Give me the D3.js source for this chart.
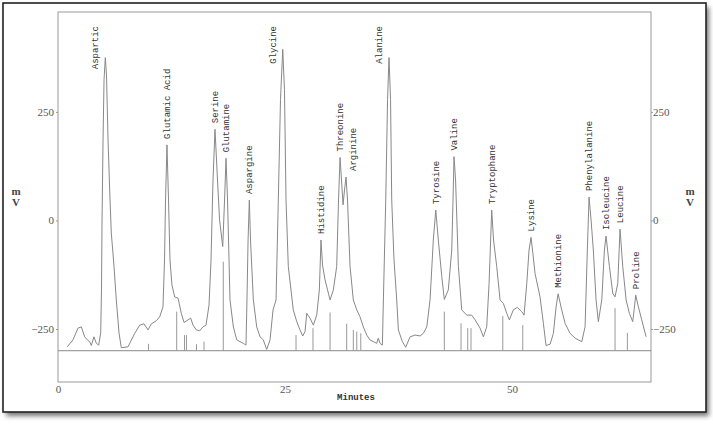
<!DOCTYPE html>
<html>
<head>
<meta charset="utf-8">
<script src="https://cdn.jsdelivr.net/npm/d3@7"></script>
<style>
  html, body { margin: 0; padding: 0; background: #fff; }
  svg { display: block; }
  .tick-label { font-family: "Liberation Serif", serif; font-size: 11px; fill: #555; }
  .unit-label { font-family: "Liberation Serif", serif; font-size: 11px; font-weight: bold; fill: #444; }
  .peak-label { font-family: "Liberation Mono", monospace; font-size: 9px; fill: #333; }
  .axis-title { font-family: "Liberation Mono", monospace; font-size: 9px; font-weight: bold; fill: #333; }
</style>
</head>
<body>
<svg id="chart" width="713" height="424"></svg>
<script>
// chromatogram trace (minutes, mV)
const minutes = [
  1.02, 1.65, 2.20, 2.57, 2.94, 3.23, 3.49, 3.67, 3.96, 4.22, 4.48, 4.70, 4.79, 4.85, 4.96, 5.07, 5.21, 5.34, 5.51, 5.73,
  5.87, 6.17, 6.42, 6.72, 6.97, 7.71, 8.45, 9.00, 9.47, 9.91, 10.28, 10.83, 11.20, 11.56, 11.73, 11.84, 12.00, 12.17, 12.33, 12.55,
  12.85, 13.22, 13.58, 13.88, 14.32, 14.61, 14.87, 15.23, 15.61, 15.97, 16.30, 16.63, 16.85, 17.07, 17.29, 17.51, 17.79, 18.14, 18.34, 18.50,
  18.67, 18.94, 19.31, 19.68, 20.04, 20.41, 20.70, 20.81, 20.93, 21.07, 21.20, 21.51, 21.88, 22.25, 22.61, 22.98, 23.35, 23.68, 24.01, 24.26,
  24.50, 24.75, 24.94, 25.11, 25.36, 25.91, 26.29, 26.65, 26.95, 27.20, 27.39, 27.75, 28.12, 28.49, 28.78, 28.96, 29.13, 29.41, 29.96, 30.32,
  30.69, 30.89, 31.06, 31.22, 31.39, 31.55, 31.72, 31.88, 32.16, 32.52, 32.90, 33.26, 33.62, 34.00, 34.36, 34.72, 35.10, 35.27, 35.46, 35.72,
  35.83, 36.09, 36.29, 36.45, 36.62, 36.75, 37.00, 37.30, 37.48, 37.92, 38.29, 38.77, 39.32, 39.87, 40.23, 40.61, 40.97, 41.33, 41.60, 41.88,
  42.26, 42.54, 42.98, 43.36, 43.50, 43.61, 43.78, 44.09, 44.46, 45.01, 45.56, 45.93, 46.48, 46.84, 47.21, 47.47, 47.76, 47.96, 48.31, 48.68,
  49.04, 49.42, 49.70, 50.14, 50.58, 51.07, 51.32, 51.62, 51.87, 52.09, 52.31, 52.53, 53.08, 53.45, 53.74, 54.19, 54.55, 54.85, 55.07, 55.47,
  55.84, 56.39, 56.94, 57.30, 57.68, 58.04, 58.29, 58.48, 58.70, 58.95, 59.25, 59.50, 59.88, 60.17, 60.35, 60.72, 61.09, 61.34, 61.64, 61.89,
  62.19, 62.56, 62.92, 63.29, 63.44, 63.62, 63.91, 64.28, 64.76
];
const millivolts = [
  -291, -275, -248, -245, -268, -275, -279, -288, -268, -283, -287, -259, -160, -1, 185, 324, 375, 335, 185, 47,
  -29, -106, -183, -259, -293, -291, -260, -241, -238, -252, -238, -231, -222, -199, -91, 47, 174, 47, -91, -149,
  -176, -179, -214, -235, -229, -225, -241, -252, -254, -245, -241, -195, -91, 93, 210, 116, 1, -60, 47, 143,
  47, -183, -245, -275, -279, -283, -287, -183, -45, 47, -45, -183, -245, -268, -275, -297, -275, -206, -183, 47,
  278, 394, 301, 47, -106, -206, -233, -252, -266, -256, -214, -225, -241, -218, -160, -45, -103, -137, -183, -160,
  -106, 47, 145, 93, 36, 70, 100, 47, -106, -183, -206, -222, -245, -264, -275, -279, -283, -271, -283, -287,
  -183, 47, 278, 375, 278, 47, -91, -183, -252, -279, -292, -268, -264, -266, -260, -245, -183, -45, 24, -45,
  -129, -182, -160, -68, 47, 147, 93, -106, -206, -218, -218, -229, -248, -268, -245, -145, 24, -45, -106, -183,
  -191, -214, -229, -206, -200, -210, -218, -145, -68, -39, -79, -122, -176, -237, -288, -285, -260, -199, -169, -206,
  -237, -260, -271, -275, -279, -245, -68, 54, 1, -68, -183, -233, -183, -68, -36, -106, -168, -176, -145, -20,
  -106, -183, -214, -233, -206, -172, -199, -229, -268
];

// named peaks
const peakNames = [
  "Aspartic", "Glutamic Acid", "Serine", "Glutamine", "Aspargine", "Glycine", "Histidine", "Threonine", "Arginine", "Alanine",
  "Tyrosine", "Valine", "Tryptophane", "Lysine", "Methionine", "Phenylalanine", "Isoleucine", "Leucine", "Proline"
];
const peakMinutes = [5.21, 12.00, 17.29, 18.50, 21.07, 24.75, 28.96, 31.06, 31.72, 36.45, 41.60, 43.61, 47.76, 52.09, 55.07, 58.48, 60.35, 61.89, 63.62];
const peakMillivolts = [375, 174, 210, 143, 47, 394, -45, 145, 100, 375, 24, 147, 24, -39, -169, 54, -36, -20, -172];

// integration event marks (minutes, top in mV), drawn up from the baseline
const markMinutes = [9.97, 13.07, 13.93, 14.15, 15.25, 16.08, 18.20, 26.21, 28.08, 29.96, 31.79, 32.52, 32.90, 33.34, 42.54, 44.38, 45.12, 45.48, 48.98, 51.18, 61.34, 62.70];
const markTops = [-284, -210, -264, -264, -285, -279, -95, -264, -248, -212, -238, -252, -256, -260, -210, -237, -248, -248, -220, -241, -202, -259];
const baselineMv = -300;

const xTicks = [0, 25, 50];
const yTicks = [250, 0, -250];

const W = 713, H = 424;
const plot = { left: 58, right: 651, top: 12, bottom: 382 };

const svg = d3.select('#chart');

const x = d3.scaleLinear().domain([0, 65.3]).range([plot.left, plot.right]);
const y = d3.scaleLinear().domain([-372, 480]).range([plot.bottom, plot.top]);

// outer frame with a soft shadow
const defs = svg.append('defs');
const blur = defs.append('filter').attr('id', 'shadow').attr('x', '-5%').attr('y', '-5%').attr('width', '110%').attr('height', '110%');
blur.append('feGaussianBlur').attr('stdDeviation', 2.5);

svg.append('rect')
  .attr('x', 6).attr('y', 7).attr('width', 703).attr('height', 409)
  .attr('fill', '#777').attr('filter', 'url(#shadow)');
svg.append('rect')
  .attr('x', 3).attr('y', 3).attr('width', 703).attr('height', 409)
  .attr('fill', '#fff').attr('stroke', '#222').attr('stroke-width', 1.6);

// plot frame
svg.append('rect')
  .attr('x', plot.left).attr('y', plot.top)
  .attr('width', plot.right - plot.left).attr('height', plot.bottom - plot.top)
  .attr('fill', 'none').attr('stroke', '#999').attr('stroke-width', 1);

// axes (labels only, tiny ticks)
const leftAxis = svg.append('g')
  .attr('transform', `translate(${plot.left},0)`)
  .call(d3.axisLeft(y).tickValues(yTicks).tickSize(2).tickPadding(2).tickFormat(d3.format('d')));
const rightAxis = svg.append('g')
  .attr('transform', `translate(${plot.right},0)`)
  .call(d3.axisRight(y).tickValues(yTicks).tickSize(2).tickPadding(0).tickFormat(d3.format('d')));
const bottomAxis = svg.append('g')
  .attr('transform', `translate(0,${plot.bottom})`)
  .call(d3.axisBottom(x).tickValues(xTicks).tickSize(0).tickPadding(3));

[leftAxis, rightAxis, bottomAxis].forEach(a => {
  a.select('.domain').remove();
  a.selectAll('line').attr('stroke', '#999');
  a.selectAll('text').attr('class', 'tick-label').attr('fill', null);
});

// unit labels
[[16, 1], [690, 1]].forEach(([ux]) => {
  svg.append('text').attr('class', 'unit-label').attr('x', ux).attr('y', 195).attr('text-anchor', 'middle').text('m');
  svg.append('text').attr('class', 'unit-label').attr('x', ux).attr('y', 206).attr('text-anchor', 'middle').text('V');
});

svg.append('text')
  .attr('class', 'axis-title')
  .attr('x', 356).attr('y', 400)
  .attr('text-anchor', 'middle')
  .text('Minutes');

// baseline
svg.append('line')
  .attr('x1', plot.left).attr('x2', plot.right)
  .attr('y1', y(baselineMv)).attr('y2', y(baselineMv))
  .attr('stroke', '#888').attr('stroke-width', 1);

// event marks
svg.append('g').selectAll('line')
  .data(markMinutes)
  .join('line')
  .attr('x1', d => x(d)).attr('x2', d => x(d))
  .attr('y1', y(baselineMv))
  .attr('y2', (d, i) => y(markTops[i]))
  .attr('stroke', '#999').attr('stroke-width', 1);

// trace
const trace = minutes.map((t, i) => [t, millivolts[i]]);
svg.append('path')
  .datum(trace)
  .attr('fill', 'none')
  .attr('stroke', '#888')
  .attr('stroke-width', 1)
  .attr('stroke-linejoin', 'round')
  .attr('d', d3.line().x(d => x(d[0])).y(d => y(d[1])));

// peak labels, rotated, sitting just above each apex
const labels = svg.append('g');
let prevX = -100;
peakNames.forEach((name, i) => {
  let px = x(peakMinutes[i]);
  let bottom = y(peakMillivolts[i]) - 6;
  const t = labels.append('text').attr('class', 'peak-label').text(name);
  const len = t.node().getComputedTextLength();
  if (bottom - len < plot.top + 2) {
    // no room above: slide left and hang from the top
    px -= 10;
    bottom = 26 + len;
  }
  if (px - prevX < 8) px = prevX + 13;
  prevX = px;
  t.attr('transform', `translate(${px + 3},${bottom}) rotate(-90)`);
});
</script>
</body>
</html>
